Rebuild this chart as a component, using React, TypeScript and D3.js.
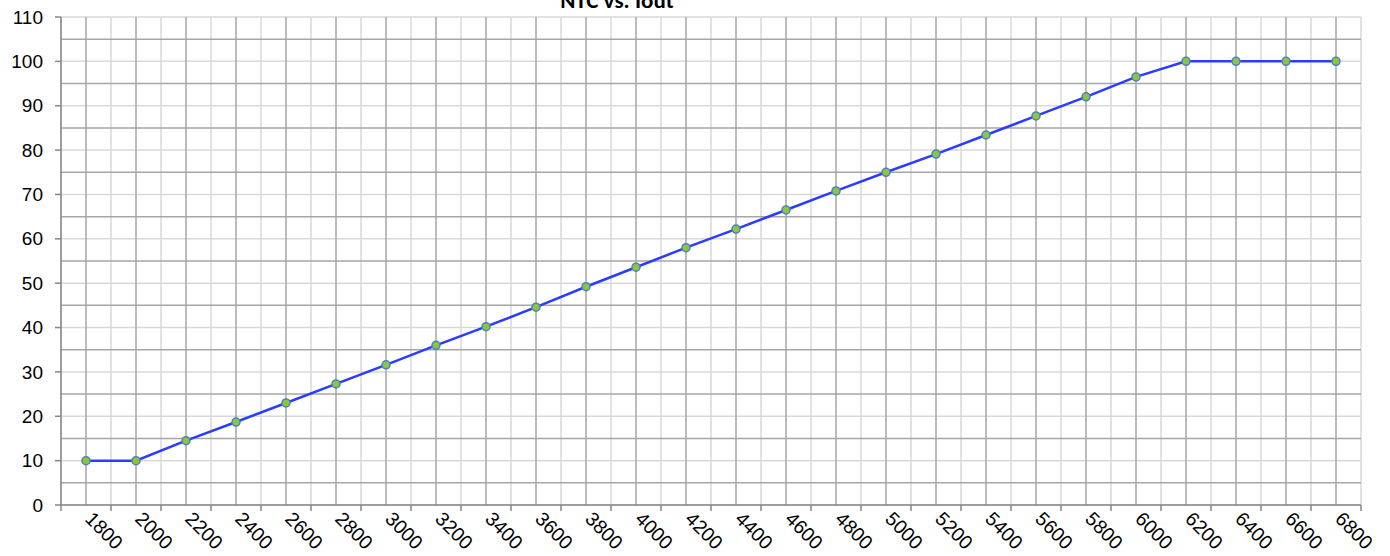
import React from "react";
import * as d3 from "d3";

const categories = ["1800","2000","2200","2400","2600","2800","3000","3200","3400","3600","3800","4000","4200","4400","4600","4800","5000","5200","5400","5600","5800","6000","6200","6400","6600","6800"];
const values = [10,10,14.5,18.7,23,27.3,31.6,36,40.2,44.6,49.2,53.6,58,62.2,66.5,70.8,75,79.1,83.4,87.7,92,96.5,100,100,100,100];
const yTicks = [0,10,20,30,40,50,60,70,80,90,100,110];
const yMinor = [5,15,25,35,45,55,65,75,85,95,105];
const title = "NTC vs. Iout";

const W = 1390, H = 556;
const left = 61, right = 1361, top = 17, bottom = 505;

export default function App() {
  const x = d3.scaleBand<string>().domain(categories).range([left, right]).padding(0);
  const y = d3.scaleLinear().domain([0, 110]).range([bottom, top]);
  const bw = x.bandwidth();
  const line = d3.line<number>().x((_, i) => (x(categories[i]) as number) + bw / 2).y(d => y(d));
  const boundaries = categories.map(c => x(c) as number).concat([right]);
  const font = "Arial, 'Liberation Sans', sans-serif";
  return (
    <svg width={W} height={H} style={{ position: "absolute", left: 0, top: 0, background: "#fff" }}>
      <rect x={0} y={0} width={W} height={H} fill="#fff" />
      {boundaries.map((bx, i) => (
        <line key={"vb" + i} x1={bx} x2={bx} y1={top} y2={bottom} stroke="#D9D9D9" strokeWidth={1.5} />
      ))}
      {yTicks.map(t => (
        <line key={"hy" + t} x1={left} x2={right} y1={y(t)} y2={y(t)} stroke="#D9D9D9" strokeWidth={1.5} />
      ))}
      {categories.map(c => {
        const cx = (x(c) as number) + bw / 2;
        return <line key={"vc" + c} x1={cx} x2={cx} y1={top} y2={bottom} stroke="#A6A6A6" strokeWidth={1.5} />;
      })}
      {yMinor.map(t => (
        <line key={"hm" + t} x1={left} x2={right} y1={y(t)} y2={y(t)} stroke="#A6A6A6" strokeWidth={1.5} />
      ))}
      <line x1={left} x2={left} y1={top} y2={bottom} stroke="#868686" strokeWidth={1.5} />
      <line x1={left} x2={right} y1={bottom} y2={bottom} stroke="#868686" strokeWidth={1.5} />
      {yTicks.map(t => (
        <g key={"yt" + t}>
          <line x1={left - 6} x2={left} y1={y(t)} y2={y(t)} stroke="#868686" strokeWidth={1.5} />
          <text x={43} y={y(t)} dy="0.35em" textAnchor="end" fontFamily={font} fontSize={19} fill="#000">{t}</text>
        </g>
      ))}
      {boundaries.map((bx, i) => (
        <line key={"xt" + i} x1={bx} x2={bx} y1={bottom} y2={bottom + 6} stroke="#868686" strokeWidth={1.5} />
      ))}
      {categories.map(c => {
        const cx = (x(c) as number) + bw / 2;
        return (
          <text key={"xl" + c} transform={`translate(${cx - 2},${bottom + 15}) rotate(45)`} fontFamily={font} fontSize={19.5} fill="#000">{c}</text>
        );
      })}
      <path d={line(values) || ""} fill="none" stroke="#2B3BFF" strokeWidth={2.5} />
      {values.map((v, i) => (
        <circle key={"p" + i} cx={(x(categories[i]) as number) + bw / 2} cy={y(v)} r={4} fill="#8CC63F" stroke="#4F81BD" strokeWidth={1.5} />
      ))}
      <text x={617} y={8} textAnchor="middle" fontFamily="Carlito, Calibri, 'Liberation Sans', sans-serif" fontWeight="bold" fontSize={23} fill="#000">{title}</text>
    </svg>
  );
}
